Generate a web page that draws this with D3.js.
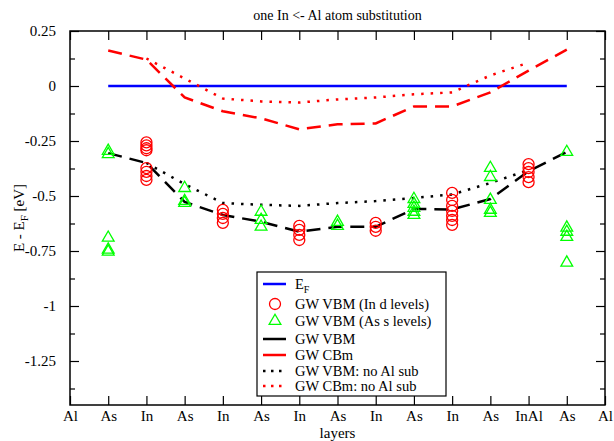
<!DOCTYPE html>
<html>
<head>
<meta charset="utf-8">
<script src="https://cdn.jsdelivr.net/npm/d3@7"></script>
<style>
  body { margin: 0; background: #fff; }
  svg { font-family: "Liberation Serif", "DejaVu Serif", serif; }
</style>
</head>
<body>
<div id="chart"></div>
<script>
// layer names along the x axis
const layers = ['Al', 'As', 'In', 'As', 'In', 'As', 'In', 'As', 'In', 'As', 'In', 'As', 'InAl', 'As', 'Al'];
const yTicks = [0.25, 0, -0.25, -0.5, -0.75, -1, -1.25];

// series: [layer index, energy]
const fermi = [[1, 0], [13, 0]];
const vbm = [[1, -0.305], [2, -0.35], [3, -0.527], [4, -0.586], [5, -0.617], [6, -0.662], [7, -0.64],
             [8, -0.64], [9, -0.559], [10, -0.561], [11, -0.514], [12, -0.387], [13, -0.30]];
const cbm = [[1, 0.161], [2, 0.12], [3, -0.052], [4, -0.115], [5, -0.147], [6, -0.197], [7, -0.174],
             [8, -0.17], [9, -0.093], [10, -0.093], [11, -0.029], [12, 0.07], [13, 0.165]];
const vbmNoAl = [[2, -0.35], [3, -0.446], [4, -0.532], [5, -0.54], [6, -0.545], [7, -0.532],
                 [8, -0.523], [9, -0.509], [10, -0.493], [11, -0.441], [12, -0.382]];
const cbmNoAl = [[2, 0.125], [3, 0.034], [4, -0.057], [5, -0.07], [6, -0.075], [7, -0.061],
                 [8, -0.052], [9, -0.038], [10, -0.029], [11, 0.048], [12, 0.106]];

// In d levels (circles) and As s levels (triangles)
const inD = [
  [2, -0.256], [2, -0.27], [2, -0.283], [2, -0.292], [2, -0.373], [2, -0.39], [2, -0.409], [2, -0.427],
  [4, -0.563], [4, -0.581], [4, -0.6], [4, -0.622],
  [6, -0.636], [6, -0.654], [6, -0.677], [6, -0.7],
  [8, -0.622], [8, -0.64], [8, -0.658],
  [10, -0.486], [10, -0.518], [10, -0.545], [10, -0.568], [10, -0.59], [10, -0.609], [10, -0.631],
  [12, -0.355], [12, -0.373], [12, -0.391], [12, -0.414], [12, -0.437]
];
const asS = [
  [1, -0.295], [1, -0.31], [1, -0.69], [1, -0.744], [1, -0.753],
  [3, -0.464], [3, -0.523], [3, -0.532],
  [5, -0.572], [5, -0.609], [5, -0.64],
  [7, -0.618], [7, -0.636],
  [9, -0.514], [9, -0.536], [9, -0.554], [9, -0.572], [9, -0.586],
  [11, -0.373], [11, -0.414], [11, -0.518], [11, -0.563], [11, -0.577],
  [13, -0.30], [13, -0.644], [13, -0.663], [13, -0.686], [13, -0.803]
];

const width = 614, height = 441;
const margin = {top: 31, right: 9, bottom: 36, left: 70};

const svg = d3.select('#chart').append('svg')
  .attr('width', width)
  .attr('height', height);

const x = d3.scaleLinear([0, 14], [margin.left, width - margin.right]);
const y = d3.scaleLinear([-1.45, 0.25], [height - margin.bottom, margin.top]);

const x0 = x.range()[0], x1 = x.range()[1];
const y0 = y.range()[0], y1 = y.range()[1];

// frame
svg.append('rect')
  .attr('x', x0).attr('y', y1)
  .attr('width', x1 - x0).attr('height', y0 - y1)
  .attr('fill', 'none').attr('stroke', '#000').attr('stroke-width', 1.5);

// axes, ticks pointing inward
const xIdx = d3.range(layers.length);
const minorY = d3.range(-1.375, 0.25, 0.25);

svg.append('g').attr('transform', `translate(0,${y0})`)
  .call(d3.axisBottom(x).tickValues(xIdx).tickFormat(i => layers[i]).tickSizeInner(-9).tickSizeOuter(0).tickPadding(5));
svg.append('g').attr('transform', `translate(0,${y1})`)
  .call(d3.axisTop(x).tickValues(xIdx).tickFormat('').tickSizeInner(-9).tickSizeOuter(0));
svg.append('g').attr('transform', `translate(${x0},0)`)
  .call(d3.axisLeft(y).tickValues(yTicks).tickFormat(d => d === 0 ? '0' : String(d)).tickSizeInner(-9).tickSizeOuter(0).tickPadding(14));
svg.append('g').attr('transform', `translate(${x1},0)`)
  .call(d3.axisRight(y).tickValues(yTicks).tickFormat('').tickSizeInner(-9).tickSizeOuter(0));
svg.append('g').attr('transform', `translate(${x0},0)`)
  .call(d3.axisLeft(y).tickValues(minorY).tickFormat('').tickSizeInner(-5).tickSizeOuter(0));
svg.append('g').attr('transform', `translate(${x1},0)`)
  .call(d3.axisRight(y).tickValues(minorY).tickFormat('').tickSizeInner(-5).tickSizeOuter(0));

svg.selectAll('.domain').remove();
svg.selectAll('.tick line').attr('stroke', '#000').attr('stroke-width', 1.2);
svg.selectAll('.tick text').attr('font-family', '"Liberation Serif", serif').attr('font-size', 15).attr('fill', '#000');

// titles
svg.append('text')
  .attr('x', (x0 + x1) / 2).attr('y', 20)
  .attr('text-anchor', 'middle').attr('font-size', 14)
  .text('one In <- Al atom substitution');
svg.append('text')
  .attr('x', (x0 + x1) / 2).attr('y', 438)
  .attr('text-anchor', 'middle').attr('font-size', 15)
  .text('layers');
const yl = svg.append('text')
  .attr('transform', `translate(24,${(y0 + y1) / 2}) rotate(-90)`)
  .attr('text-anchor', 'middle').attr('font-size', 15);
yl.append('tspan').text('E - E');
yl.append('tspan').attr('font-size', 11).attr('dy', 4).text('F');
yl.append('tspan').attr('dy', -4).text(' [eV]');

// lines
const line = d3.line().x(d => x(d[0])).y(d => y(d[1]));
const lines = [
  {data: fermi, color: '#0000ff', dash: null},
  {data: cbmNoAl, color: '#ff0000', dash: '2.5,7'},
  {data: vbmNoAl, color: '#000', dash: '2.5,7'},
  {data: cbm, color: '#ff0000', dash: '14,8'},
  {data: vbm, color: '#000', dash: '14,8'}
];
svg.selectAll('path.series')
  .data(lines)
  .join('path')
  .attr('class', 'series')
  .attr('d', d => line(d.data))
  .attr('fill', 'none')
  .attr('stroke', d => d.color)
  .attr('stroke-width', 2.5)
  .attr('stroke-dasharray', d => d.dash);

// markers
svg.selectAll('circle.ind')
  .data(inD)
  .join('circle')
  .attr('class', 'ind')
  .attr('cx', d => x(d[0]))
  .attr('cy', d => y(d[1]))
  .attr('r', 5.5)
  .attr('fill', 'none')
  .attr('stroke', '#ff0000')
  .attr('stroke-width', 1.3);

const tri = d3.symbol().type(d3.symbolTriangle).size(60);
svg.selectAll('path.ass')
  .data(asS)
  .join('path')
  .attr('class', 'ass')
  .attr('transform', d => `translate(${x(d[0])},${y(d[1])})`)
  .attr('d', tri)
  .attr('fill', 'none')
  .attr('stroke', '#00ff00')
  .attr('stroke-width', 1.3);

// legend
const lg = svg.append('g');
lg.append('rect')
  .attr('x', 257).attr('y', 272).attr('width', 189).attr('height', 124)
  .attr('fill', '#fff').attr('stroke', '#000').attr('stroke-width', 1.2);

const legendItems = [
  {label: 'E', sub: 'F', kind: 'line', color: '#0000ff', dash: null},
  {label: 'GW VBM (In d levels)', kind: 'circle', color: '#ff0000'},
  {label: 'GW VBM (As s levels)', kind: 'tri', color: '#00ff00'},
  {label: 'GW VBM', kind: 'line', color: '#000', dash: null},
  {label: 'GW CBm', kind: 'line', color: '#ff0000', dash: null},
  {label: 'GW VBM: no Al sub', kind: 'line', color: '#000', dash: '2.5,5.5'},
  {label: 'GW CBm: no Al sub', kind: 'line', color: '#ff0000', dash: '2.5,5.5'}
];
const rowY = [284, 304, 321, 339, 355, 371, 386];

legendItems.forEach((it, i) => {
  const cy = rowY[i];
  if (it.kind === 'line') {
    lg.append('line')
      .attr('x1', 263).attr('x2', 286).attr('y1', cy).attr('y2', cy)
      .attr('stroke', it.color).attr('stroke-width', 2.5)
      .attr('stroke-dasharray', it.dash);
  } else if (it.kind === 'circle') {
    lg.append('circle').attr('cx', 275).attr('cy', cy).attr('r', 5.5)
      .attr('fill', 'none').attr('stroke', it.color).attr('stroke-width', 1.3);
  } else {
    lg.append('path').attr('transform', `translate(275,${cy})`).attr('d', tri)
      .attr('fill', 'none').attr('stroke', it.color).attr('stroke-width', 1.3);
  }
  const t = lg.append('text').attr('x', 295).attr('y', cy + 5).attr('font-size', 14.5);
  t.append('tspan').text(it.label);
  if (it.sub) t.append('tspan').attr('font-size', 10).attr('dy', 4).text(it.sub);
});
</script>
</body>
</html>
